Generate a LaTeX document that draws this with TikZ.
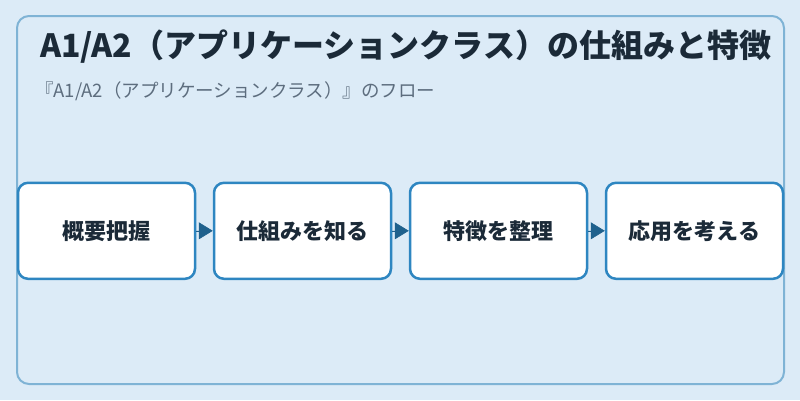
\documentclass[tikz,border=0pt]{standalone}
\usepackage{fontspec}
\setmainfont{Noto Sans CJK JP}
\newfontfamily\jpfont{Noto Sans CJK JP}
\usetikzlibrary{arrows.meta}
\definecolor{bgc}{HTML}{DCEBF7}
\definecolor{framec}{HTML}{7FB3D5}
\definecolor{boxc}{HTML}{2E86C1}
\definecolor{arrowc}{HTML}{1F618D}
\definecolor{titlec}{HTML}{1B2A38}
\definecolor{subc}{HTML}{5D6D7E}
\tikzset{
  stepbox/.style={draw=boxc, line width=2.5pt, fill=white, rounded corners=10pt,
    minimum width=177pt, minimum height=96pt, inner sep=0pt,
    font=\jpfont\bfseries\fontsize{22}{26}\selectfont, text=titlec},
  flowarrow/.style={draw=arrowc, fill=arrowc, line width=0.6pt,
    -{Triangle[length=14pt,width=17pt]}},
}
\begin{document}
\begin{tikzpicture}[x=1pt,y=-1pt]
\fill[bgc] (0,0) rectangle (800,400);
\useasboundingbox (0,0) rectangle (800,400);
\draw[framec, line width=2pt, rounded corners=12pt] (17,16) rectangle (784,384);
\node[anchor=base west, inner sep=0pt, text=titlec, font=\jpfont\bfseries\fontsize{32}{38}\selectfont] (title) at (40,57.5) {A1/A2（アプリケーションクラス）の仕組みと特徴};
\node[anchor=base west, inner sep=0pt, text=subc, font=\jpfont\fontsize{18.5}{22}\selectfont] (sub) at (35,97) {『A1/A2（アプリケーションクラス）』のフロー};
\node[stepbox] (b1) at (106.5,230.8) {概要把握};
\node[stepbox] (b2) at (302.5,230.8) {仕組みを知る};
\node[stepbox] (b3) at (498.5,230.8) {特徴を整理};
\node[stepbox] (b4) at (694.5,230.8) {応用を考える};
\draw[flowarrow] (b1) -- (b2);
\draw[flowarrow] (b2) -- (b3);
\draw[flowarrow] (b3) -- (b4);
\end{tikzpicture}
\end{document}
